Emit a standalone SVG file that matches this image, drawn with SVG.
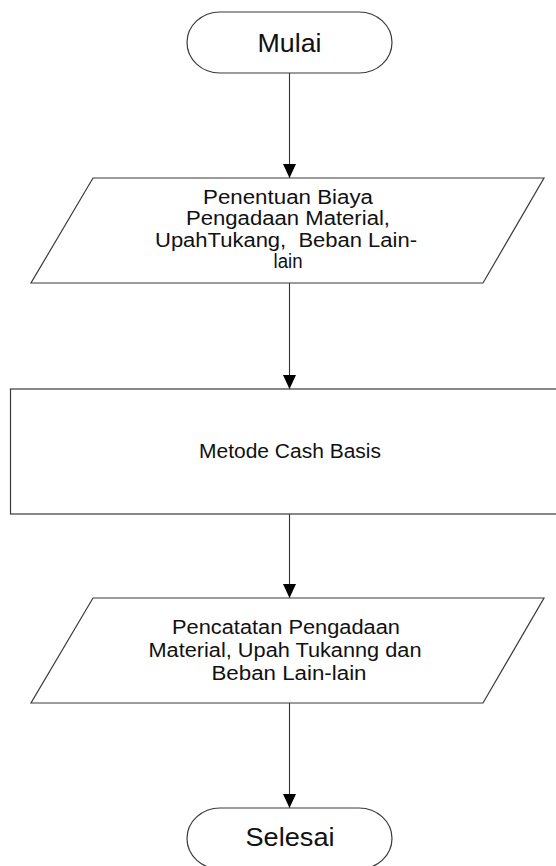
<svg xmlns="http://www.w3.org/2000/svg" width="556" height="866" viewBox="0 0 556 866">
<defs>
<style>
.shape{fill:#fff;stroke:#3a3a3a;stroke-width:1.2}
.conn{stroke:#333;stroke-width:1.1;fill:none}
.t{font-family:"Liberation Sans",Arial,sans-serif;font-size:19.5px;fill:#111;text-anchor:middle;white-space:pre}
.tt{font-family:"Liberation Sans",Arial,sans-serif;font-size:25px;fill:#111;text-anchor:middle}
</style>
<marker id="ah" markerWidth="14" markerHeight="13" refX="14" refY="6.5" orient="auto" markerUnits="userSpaceOnUse">
<path d="M0,0 L14,6.5 L0,13 Z" fill="#000"/>
</marker>
</defs>
<rect width="556" height="866" fill="#fff"/>
<g id="connectors">
<line class="conn" x1="289.5" y1="73" x2="289.5" y2="178" marker-end="url(#ah)"/>
<line class="conn" x1="289.5" y1="283" x2="289.5" y2="389" marker-end="url(#ah)"/>
<line class="conn" x1="289.5" y1="514" x2="289.5" y2="598" marker-end="url(#ah)"/>
<line class="conn" x1="289.5" y1="703" x2="289.5" y2="808" marker-end="url(#ah)"/>
</g>
<g id="mulai">
<rect class="shape" x="187" y="12" width="205" height="61" rx="33" ry="30.5"/>
<text class="tt" x="289.5" y="51.7" textLength="64" lengthAdjust="spacingAndGlyphs">Mulai</text>
</g>
<g id="penentuan">
<polygon class="shape" points="93,178 544,178 483,283 31,283"/>
<text class="t" x="288" y="203.5" textLength="170" lengthAdjust="spacingAndGlyphs">Penentuan Biaya</text>
<text class="t" x="288" y="225" textLength="204" lengthAdjust="spacingAndGlyphs">Pengadaan Material,</text>
<text class="t" x="286" y="246.7" textLength="262" lengthAdjust="spacingAndGlyphs">UpahTukang,  Beban Lain-</text>
<text class="t" x="288" y="268.3" textLength="29" lengthAdjust="spacingAndGlyphs">lain</text>
</g>
<g id="metode">
<rect class="shape" x="10.5" y="389" width="600" height="125"/>
<text class="t" x="290" y="458" textLength="182" lengthAdjust="spacingAndGlyphs">Metode Cash Basis</text>
</g>
<g id="pencatatan">
<polygon class="shape" points="93,598 544,598 483,703 31,703"/>
<text class="t" x="286" y="634.3" textLength="228" lengthAdjust="spacingAndGlyphs">Pencatatan Pengadaan</text>
<text class="t" x="285" y="656.7" textLength="273" lengthAdjust="spacingAndGlyphs">Material, Upah Tukanng dan</text>
<text class="t" x="289" y="680" textLength="155" lengthAdjust="spacingAndGlyphs">Beban Lain-lain</text>
</g>
<g id="selesai">
<rect class="shape" x="187" y="808" width="205" height="61" rx="33" ry="30.5"/>
<text class="tt" x="290" y="846" textLength="89" lengthAdjust="spacingAndGlyphs">Selesai</text>
</g>
</svg>
